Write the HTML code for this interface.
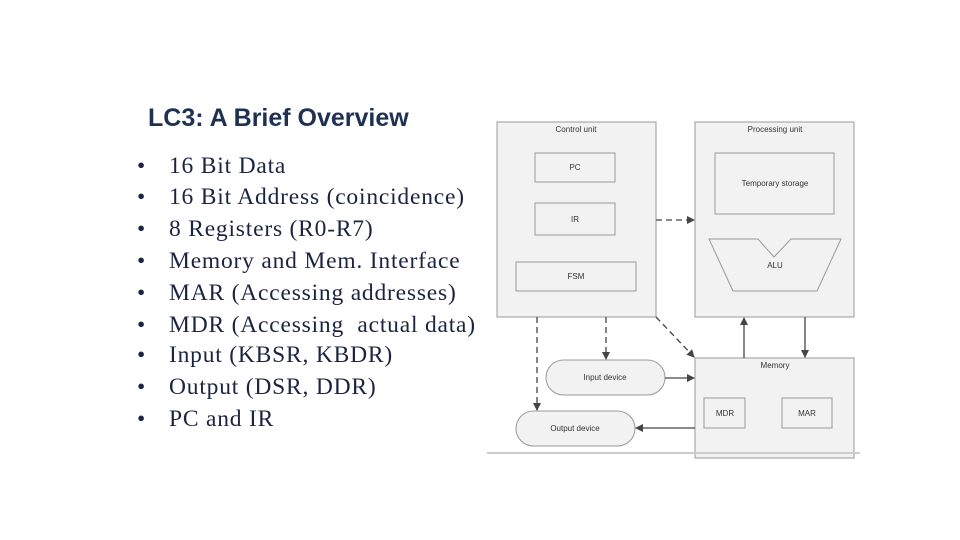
<!DOCTYPE html>
<html><head><style>
body{margin:0;width:960px;height:540px;background:#fff;position:relative;overflow:hidden;font-family:"Liberation Serif",serif}
h1{position:absolute;left:148px;top:104px;margin:0;font:bold 25px "Liberation Sans",sans-serif;color:#1f3152;letter-spacing:0}
.b{position:absolute;left:137px;font-size:23.5px;color:#1a2440;line-height:32px}
.b span{position:absolute;left:32px;white-space:nowrap;letter-spacing:0.8px}
</style></head><body>
<h1>LC3: A Brief Overview</h1>
<div class="b" style="top:150px">•<span>16 Bit Data</span></div>
<div class="b" style="top:181px">•<span>16 Bit Address (coincidence)</span></div>
<div class="b" style="top:213px">•<span>8 Registers (R0-R7)</span></div>
<div class="b" style="top:245px">•<span>Memory and Mem. Interface</span></div>
<div class="b" style="top:277px">•<span>MAR (Accessing addresses)</span></div>
<div class="b" style="top:309px">•<span>MDR (Accessing &nbsp;actual data)</span></div>
<div class="b" style="top:339px">•<span>Input (KBSR, KBDR)</span></div>
<div class="b" style="top:371px">•<span>Output (DSR, DDR)</span></div>
<div class="b" style="top:403px">•<span>PC and IR</span></div>
<svg width="960" height="540" style="position:absolute;left:0;top:0" font-family="Liberation Sans,sans-serif" font-size="8" fill="#333">
<defs><marker id="a" markerWidth="8" markerHeight="8" refX="7" refY="4" orient="auto" markerUnits="userSpaceOnUse"><path d="M0,0L8,4L0,8z" fill="#444"/></marker></defs>
<g stroke="#999" fill="#f2f2f2" stroke-width="1">
<rect x="497" y="122" width="159" height="195"/>
<rect x="535" y="153" width="80" height="29"/>
<rect x="535" y="203" width="80" height="32"/>
<rect x="516" y="262" width="120" height="29"/>
<rect x="695" y="122" width="159" height="195"/>
<rect x="715" y="153" width="119" height="61"/>
<path d="M709,239L758,239L774,257L791,239L841,239L817,291L733,291Z"/>
<rect x="695" y="358" width="159" height="100"/>
<rect x="704" y="398" width="41" height="30"/>
<rect x="782" y="398" width="50" height="30"/>
<rect x="546" y="360" width="119" height="35" rx="17.5"/>
<rect x="516" y="411" width="119" height="35" rx="17.5"/>
</g>
<line x1="487" y1="453" x2="860" y2="453" stroke="#ccc" stroke-width="2"/>
<g stroke="#444" stroke-width="1.3" fill="none" marker-end="url(#a)">
<line x1="656" y1="220" x2="694" y2="220" stroke-dasharray="6,4"/>
<line x1="537" y1="317" x2="537" y2="410" stroke-dasharray="6,4"/>
<line x1="606" y1="317" x2="606" y2="359" stroke-dasharray="6,4"/>
<line x1="656" y1="317" x2="694" y2="357" stroke-dasharray="6,4"/>
<line x1="744" y1="358" x2="744" y2="318"/>
<line x1="805" y1="317" x2="805" y2="357"/>
<line x1="665" y1="378" x2="694" y2="378"/>
<line x1="695" y1="428" x2="636" y2="428"/>
</g>
<text x="576" y="132" text-anchor="middle">Control unit</text>
<text x="775" y="132" text-anchor="middle">Processing unit</text>
<text x="575" y="170" text-anchor="middle">PC</text>
<text x="575" y="222" text-anchor="middle">IR</text>
<text x="576" y="279" text-anchor="middle">FSM</text>
<text x="775" y="186" text-anchor="middle">Temporary storage</text>
<text x="775" y="268" text-anchor="middle">ALU</text>
<text x="775" y="368" text-anchor="middle">Memory</text>
<text x="725" y="416" text-anchor="middle">MDR</text>
<text x="807" y="416" text-anchor="middle">MAR</text>
<text x="605" y="380" text-anchor="middle">Input device</text>
<text x="575" y="431" text-anchor="middle">Output device</text>
</svg>
</body></html>
